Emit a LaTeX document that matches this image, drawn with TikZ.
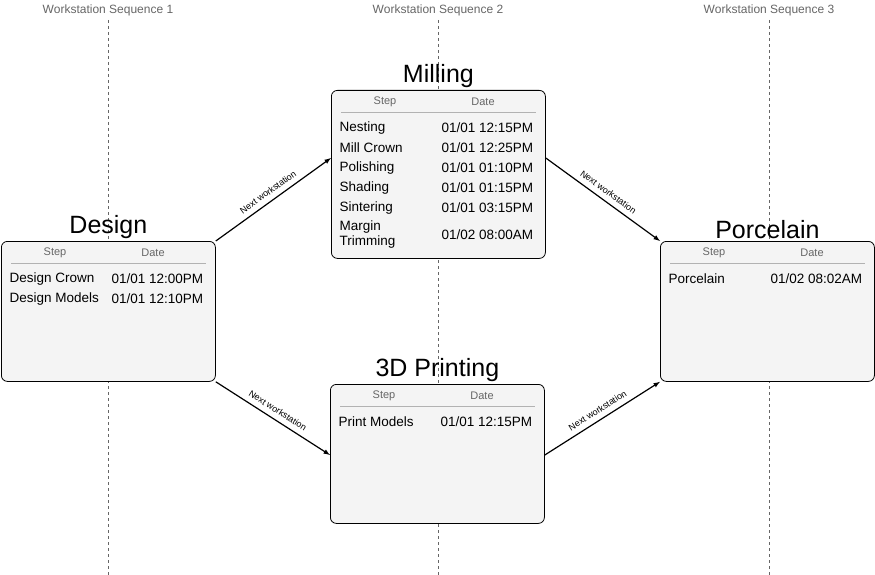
\documentclass[tikz,border=0pt]{standalone}
\usepackage{fontspec}
\setmainfont{Liberation Sans}
\usetikzlibrary{positioning}
\definecolor{boxfill}{HTML}{F4F4F4}
\definecolor{seqgray}{HTML}{666666}
\tikzset{
  station/.style={draw, rounded corners=6pt, fill=boxfill, line width=0.8pt, anchor=north west, inner sep=0pt},
  title/.style={font=\fontsize{25}{27}\selectfont, anchor=south, inner sep=2pt},
  head/.style={font=\fontsize{11}{12}\selectfont, text=seqgray},
  cell/.style={font=\fontsize{13.5}{14}\selectfont, anchor=west, align=left},
  seq/.style={font=\fontsize{12}{13}\selectfont, text=seqgray},
  flow/.style={-latex, line width=1.2pt},
  nextlbl/.style={font=\fontsize{9}{10}\selectfont, sloped, above=2pt}
}
\newcommand{\stationtable}[2]{% name, list of step/date
  \node[head] at ([xshift=54pt,yshift=-12pt]#1.north west) {Step};
  \node[head] at ([xshift=152pt,yshift=-12pt]#1.north west) {Date};
  \draw[gray!60] ([xshift=10pt,yshift=-22pt]#1.north west) -- ([xshift=-10pt,yshift=-22pt]#1.north east);
  \foreach \s/\d [count=\i] in {#2} {
    \node[cell] at ([xshift=5pt,yshift=-18pt-20pt*\i]#1.north west) {\s};
    \node[cell] at ([xshift=107pt,yshift=-18pt-20pt*\i]#1.north west) {\d};
  }
}
\begin{document}
\begin{tikzpicture}[x=1pt,y=-1pt]
\useasboundingbox (0,0) rectangle (875,575);

% sequence lines
\foreach \x/\n in {108/1,438/2,769/3} {
  \draw[seqgray, dashed, line width=0.8pt] (\x,20) -- (\x,575);
  \node[seq] at (\x,10) {Workstation Sequence \n};
}

% stations
\node[station, minimum width=214pt, minimum height=140pt] (design) at (1,241) {};
\node[station, minimum width=214pt, minimum height=168pt] (milling) at (331,90) {};
\node[station, minimum width=214pt, minimum height=139pt] (printing) at (330,384) {};
\node[station, minimum width=214pt, minimum height=140pt] (porcelain) at (660,241) {};

\node[title] at (design.north) {Design};
\node[title] at (milling.north) {Milling};
\node[title] at (printing.north) {3D Printing};
\node[title] at (porcelain.north) {Porcelain};

\stationtable{design}{Design Crown/{01/01 12:00PM}, Design Models/{01/01 12:10PM}}
\stationtable{milling}{Nesting/{01/01 12:15PM}, Mill Crown/{01/01 12:25PM}, Polishing/{01/01 01:10PM}, Shading/{01/01 01:15PM}, Sintering/{01/01 03:15PM}}
\node[cell, font=\fontsize{13.5}{15}\selectfont] at ([xshift=5pt,yshift=-145pt]milling.north west) {Margin\\Trimming};
\node[cell] at ([xshift=107pt,yshift=-145pt]milling.north west) {01/02 08:00AM};
\stationtable{printing}{Print Models/{01/01 12:15PM}}
\stationtable{porcelain}{Porcelain/{01/02 08:02AM}}

% connectors
\draw[flow] (design.north east) -- node[nextlbl] {Next workstation} ([yshift=-68pt]milling.north west);
\draw[flow] (design.south east) -- node[nextlbl] {Next workstation} ([yshift=-71pt]printing.north west);
\draw[flow] ([yshift=-68pt]milling.north east) -- node[nextlbl] {Next workstation} (porcelain.north west);
\draw[flow] ([yshift=-71pt]printing.north east) -- node[nextlbl] {Next workstation} (porcelain.south west);
\end{tikzpicture}
\end{document}
